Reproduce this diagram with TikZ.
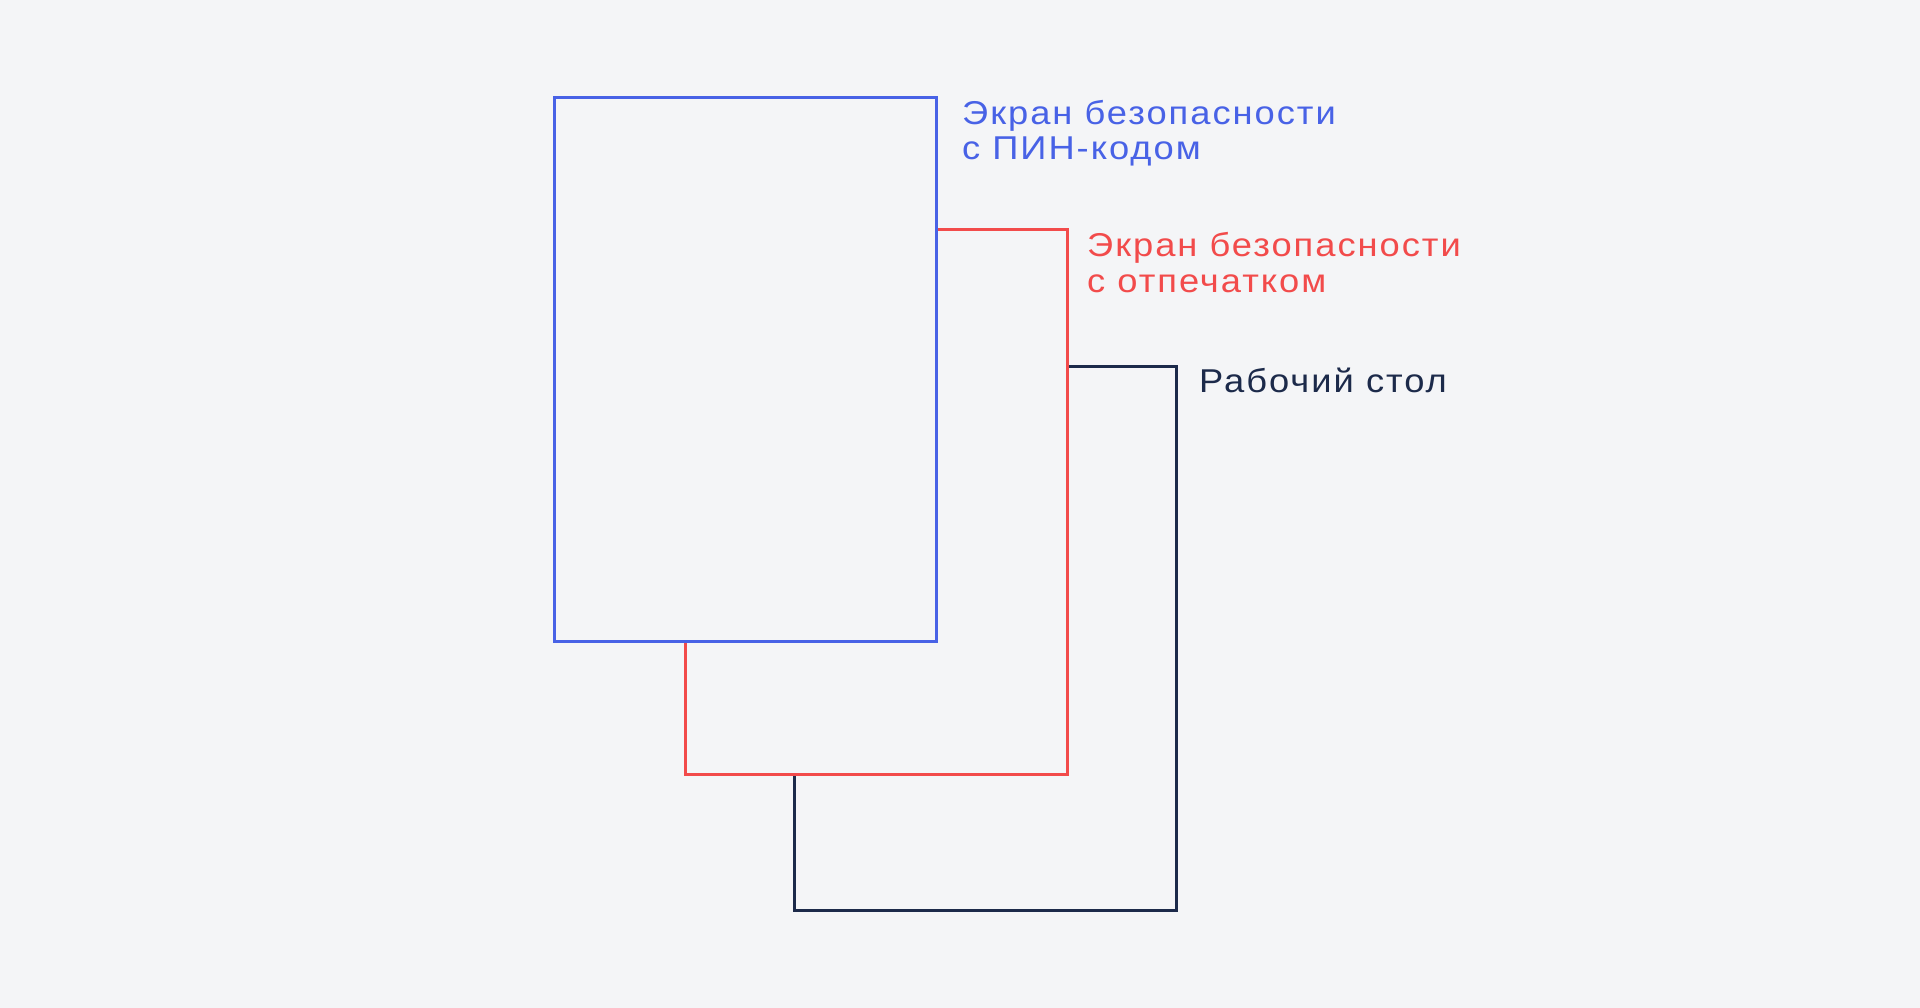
\documentclass[tikz,border=0pt]{standalone}
\usepackage{fontspec}
\setmainfont{Liberation Sans}
\definecolor{bg}{HTML}{F4F5F7}
\definecolor{pinblue}{HTML}{4862E6}
\definecolor{fpred}{HTML}{F24B4B}
\definecolor{navy}{HTML}{1C2A4A}
\tikzset{
  frame/.style={line width=3pt},
  lbl/.style={anchor=base west, inner sep=0pt, font=\fontsize{33}{36}\selectfont\addfontfeature{FakeStretch=1.1,LetterSpace=6}},
}
\begin{document}
\begin{tikzpicture}[x=1pt,y=-1pt]
\fill[bg] (0,0) rectangle (1920,1008);
\useasboundingbox (0,0) rectangle (1920,1008);
% corners
\coordinate (b1) at (554,98);  \coordinate (b2) at (936,641);
\coordinate (r1) at (685,230); \coordinate (r2) at (1067,774);
\coordinate (k1) at (794,366); \coordinate (k2) at (1176,910);
% desktop (back)
\draw[frame,navy] (k1 -| r2) -- (k1 -| k2) -- (k2) -- (k2 -| k1) -- (k1 |- r2);
% fingerprint (middle)
\draw[frame,fpred] (r1 -| b2) -- (r1 -| r2) -- (r2) -- (r2 -| r1) -- (r1 |- b2);
% pin (front)
\draw[frame,pinblue] (b1) rectangle (b2);
% labels
\node[lbl,text=pinblue] (pin1) at (962,125) {Экран безопасности};
\node[lbl,text=pinblue] (pin2) at (962,160) {с ПИН-кодом};
\node[lbl,text=fpred] (fp1) at (1087,257) {Экран безопасности};
\node[lbl,text=fpred] (fp2) at (1087,293) {с отпечатком};
\node[lbl,text=navy] (desk) at (1199,392) {Рабочий стол};
\end{tikzpicture}
\end{document}
